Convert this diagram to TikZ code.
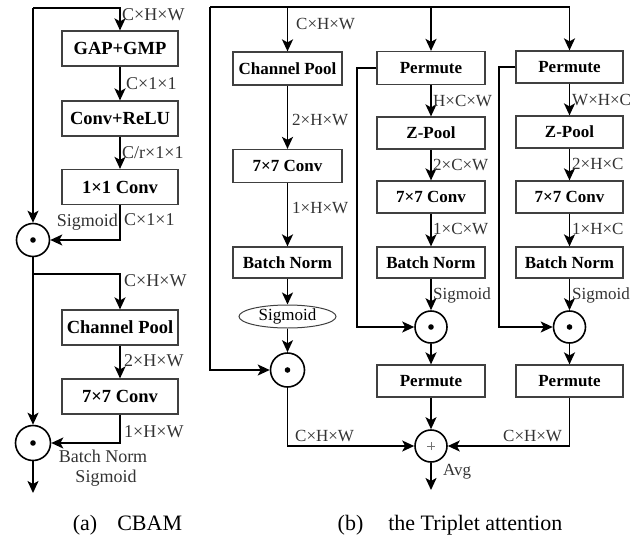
\documentclass[tikz,border=0pt]{standalone}
\usepackage{fontspec}
\setmainfont{Liberation Serif}
\usetikzlibrary{arrows.meta,shapes.geometric,calc}
\begin{document}
\begin{tikzpicture}[x=1pt,y=-1pt,
  box/.style={draw=black!75, line width=1.2pt, inner sep=0pt, minimum height=33pt,
    font=\fontsize{17}{20}\selectfont\bfseries},
  boxa/.style={box, minimum width=116pt, minimum height=35pt, font=\fontsize{18.5}{21}\selectfont\bfseries},
  boxb/.style={box, minimum width=108pt},
  ln/.style={line width=1.8pt},
  arr/.style={line width=1.8pt, -{Stealth[length=12pt,width=11pt,inset=3pt]}},
  lab/.style={font=\fontsize{17}{20}\selectfont, text=black!80, inner sep=0pt, anchor=west},
  laba/.style={lab, font=\fontsize{18}{21}\selectfont},
  mul/.style={circle, draw, line width=1.6pt, minimum size=33pt, inner sep=0pt,
    path picture={\fill (path picture bounding box.center) circle (2.8pt);}},
  addc/.style={circle, draw, line width=1.6pt, minimum size=32pt, inner sep=0pt,
    path picture={\draw[black!55, line width=0.6pt]
      ([xshift=-4pt]path picture bounding box.center) -- ([xshift=4pt]path picture bounding box.center)
      ([yshift=-4pt]path picture bounding box.center) -- ([yshift=4pt]path picture bounding box.center);}},
  sigell/.style={ellipse, draw=black!75, line width=1pt, minimum width=97pt, minimum height=23pt,
    inner sep=0pt, font=\fontsize{17}{20}\selectfont},
  captxt/.style={font=\fontsize{22}{25}\selectfont, inner sep=0pt}
]
\useasboundingbox (0,0) rectangle (644,543);

% ---------------- (a) CBAM ----------------
\node[boxa] (gap) at (120,48.5) {GAP+GMP};
\node[boxa] (cr) at (120,118.5) {Conv+ReLU};
\node[boxa] (c11) at (120,187) {1×1 Conv};
\node[mul] (m1) at (33,240) {};
\node[boxa] (cpA) at (120,327.5) {Channel Pool};
\node[boxa] (c7A) at (120,396.5) {7×7 Conv};
\node[mul, minimum size=35pt] (m2) at (33,443) {};

\coordinate (a0) at (33,8);
\coordinate (a1) at (120,8);
\draw[arr] (a0) -- (a1) -- (gap.north);
\draw[arr] (a0) -- (m1.north);
\node[laba] at (122,15) {C×H×W};
\draw[arr] (gap.south) -- (cr.north);
\node[laba] at (126,84) {C×1×1};
\draw[arr] (cr.south) -- (c11.north);
\node[laba] at (122,153) {C/r×1×1};
\draw[arr] (c11.south) |- (m1.east);
\node[laba] at (124,220) {C×1×1};
\node[laba, anchor=east] at (118,222) {Sigmoid};

\coordinate (b0) at (33,274);
\draw[arr] (m1.south) -- (m2.north);
\draw[arr] (b0) -| (cpA.north);
\node[laba] at (124,281) {C×H×W};
\draw[arr] (cpA.south) -- (c7A.north);
\node[laba] at (124,361) {2×H×W};
\draw[arr] (c7A.south) |- (m2.east);
\node[laba] at (124,432) {1×H×W};
\node[laba, anchor=center] at (103,456) {Batch Norm};
\node[laba, anchor=center] at (106,478) {Sigmoid};
\coordinate (aout) at (33,493);
\draw[arr] (m2.south) -- (aout);

\node[captxt] (capa) at (127.5,525) {(a)\hspace{20pt}CBAM};

% ---------------- (b) Triplet attention ----------------
\coordinate (t0) at (210,7);
\coordinate (t1) at (287.5,7);
\coordinate (t2) at (431,7);
\coordinate (t3) at (569.5,7);

% column 1
\node[box, minimum width=109pt] (cpB) at (287.5,68.5) {Channel Pool};
\node[box, minimum width=109pt] (c7B) at (287.5,166) {7×7 Conv};
\node[box, minimum width=109pt, minimum height=31pt] (bnB) at (287.5,262.5) {Batch Norm};
\node[sigell] (sgB) at (287.5,316.5) {Sigmoid};
\node[mul, minimum size=34pt] (mA) at (287.5,370) {};

\draw[ln] (t0) -- (t3);
\draw[arr] (t1) -- (cpB.north);
\node[lab] at (296,24) {C×H×W};
\draw[arr] (cpB.south) -- (c7B.north);
\node[lab] at (292,120) {2×H×W};
\draw[arr] (c7B.south) -- (bnB.north);
\node[lab] at (292,208) {1×H×W};
\draw[arr] (bnB.south) -- (sgB.north);
\draw[arr] (sgB.south) -- (mA.north);
\draw[arr] (t0) |- (mA.west);

% column 2
\node[boxb] (p1) at (431,68) {Permute};
\node[boxb, minimum height=32pt] (z1) at (431,133) {Z-Pool};
\node[boxb, minimum height=32pt] (c71) at (431,197) {7×7 Conv};
\node[boxb, minimum height=31pt] (bn1) at (431,262.5) {Batch Norm};
\node[mul, minimum size=32pt] (mB) at (431,327) {};
\node[boxb, minimum height=32pt] (q1) at (431,381) {Permute};
\node[addc] (plus) at (431,446) {};

\draw[arr] (t2) -- (p1.north);
\draw[arr] (p1.south) -- (z1.north);
\node[lab] at (433,101) {H×C×W};
\draw[arr] (z1.south) -- (c71.north);
\node[lab] at (433,165) {2×C×W};
\draw[arr] (c71.south) -- (bn1.north);
\node[lab] at (433,229) {1×C×W};
\draw[arr] (bn1.south) -- (mB.north);
\node[lab] at (433,295) {Sigmoid};
\draw[arr] (mB.south) -- (q1.north);
\draw[arr] (q1.south) -- (plus.north);
\coordinate (k1) at (357,68);
\draw[arr] (p1.west) -- (k1) |- (mB.west);

% column 3
\node[boxb, minimum width=107pt, minimum height=32pt] (p2) at (569.5,67) {Permute};
\node[boxb, minimum width=107pt, minimum height=32pt] (z2) at (569.5,132) {Z-Pool};
\node[boxb, minimum width=107pt, minimum height=32pt] (c72) at (569.5,197) {7×7 Conv};
\node[boxb, minimum width=107pt, minimum height=31pt] (bn2) at (569.5,262.5) {Batch Norm};
\node[mul, minimum size=32pt] (mC) at (569.5,327) {};
\node[boxb, minimum width=107pt, minimum height=32pt] (q2) at (569.5,381) {Permute};

\draw[arr] (t3) -- (p2.north);
\draw[arr] (p2.south) -- (z2.north);
\node[lab] at (572,100) {W×H×C};
\draw[arr] (z2.south) -- (c72.north);
\node[lab] at (572,164) {2×H×C};
\draw[arr] (c72.south) -- (bn2.north);
\node[lab] at (572,229) {1×H×C};
\draw[arr] (bn2.south) -- (mC.north);
\node[lab] at (572,295) {Sigmoid};
\draw[arr] (mC.south) -- (q2.north);
\coordinate (k2) at (499,67);
\draw[arr] (p2.west) -- (k2) |- (mC.west);

% merge
\draw[arr] (mA.south) |- (plus.west);
\node[lab] at (295,436) {C×H×W};
\draw[arr] (q2.south) |- (plus.east);
\node[lab] at (503,436) {C×H×W};
\node[lab] at (443,472) {Avg};
\coordinate (bout) at (431,490);
\draw[arr] (plus.south) -- (bout);

\node[captxt] (capb) at (450,525) {(b)\hspace{25pt}the Triplet attention};
\end{tikzpicture}
\end{document}
